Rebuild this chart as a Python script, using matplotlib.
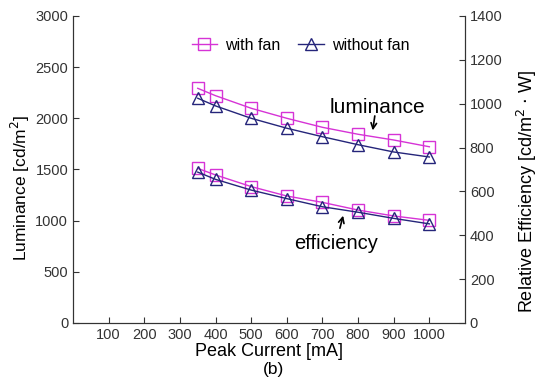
import matplotlib.pyplot as plt

current = [350, 400, 500, 600, 700, 800, 900, 1000]
lum_fan = [2293, 2221, 2098, 2000, 1912, 1844, 1788, 1722]
lum_nofan = [2196, 2121, 2000, 1903, 1820, 1742, 1671, 1622]
eff_fan = [705, 675, 622, 579, 550, 515, 488, 468]
eff_nofan = [688, 655, 606, 567, 530, 505, 477, 452]

x_ticks = [100, 200, 300, 400, 500, 600, 700, 800, 900, 1000]

mag = '#d633d6'
navy = '#25257a'
plt.rcParams['font.family'] = ['Liberation Sans', 'DejaVu Sans']

fig = plt.figure(figsize=(5.41, 3.80), dpi=100)
ax = fig.add_axes([0.135, 0.15, 0.7245, 0.808])
ax2 = ax.twinx()

# luminance on left axis
ax.plot(current, lum_fan, color=mag, lw=1, marker='s', ms=9, mfc='none', mec=mag, mew=1)
ax.plot(current, lum_nofan, color=navy, lw=1, marker='^', ms=9, mfc='none', mec=navy, mew=1)
# efficiency on right axis
ax2.plot(current, eff_fan, color=mag, lw=1, marker='s', ms=9, mfc='none', mec=mag, mew=1, label='with fan')
ax2.plot(current, eff_nofan, color=navy, lw=1, marker='^', ms=9, mfc='none', mec=navy, mew=1, label='without fan')

ax.set_xlim(0, 1100)
ax.set_ylim(0, 3000)
ax2.set_ylim(0, 1400)
ax.set_xticks(x_ticks)
ax.set_yticks(range(0, 3001, 500))
ax2.set_yticks(range(0, 1401, 200))

for a in (ax, ax2):
    a.spines['top'].set_visible(False)
    for s in a.spines.values():
        s.set_color('#333333')
    a.tick_params(direction='in', length=4, labelsize=10.5, colors='#333333')

ax.set_xlabel('Peak Current [mA]', fontsize=13, labelpad=1)
ax.set_ylabel('Luminance [cd/m$^2$]', fontsize=12.5)
ax.yaxis.set_label_coords(-0.105, 0.44)
ax2.set_ylabel('Relative Efficiency [cd/m$^2$ $\\cdot$ W]', fontsize=13)
ax2.yaxis.set_label_coords(1.128, 0.43)
fig.text(0.505, 0.027, '(b)', ha='center', va='center', fontsize=12.5)

ax2.legend(loc='upper center', bbox_to_anchor=(0.58, 0.975), ncol=2, frameon=False,
           fontsize=11.5, handlelength=1.6, columnspacing=1.1, handletextpad=0.5)

ax.annotate('luminance', xy=(720, 2015), fontsize=15, va='bottom')
ax.annotate('', xy=(840, 1855), xytext=(848, 2050),
            arrowprops=dict(arrowstyle='->', color='black', lw=1.2))
ax.annotate('efficiency', xy=(620, 780), fontsize=14.5, va='center')
ax.annotate('', xy=(760, 1075), xytext=(747, 900),
            arrowprops=dict(arrowstyle='->', color='black', lw=1.2))

fig.savefig('out.png', dpi=100)
